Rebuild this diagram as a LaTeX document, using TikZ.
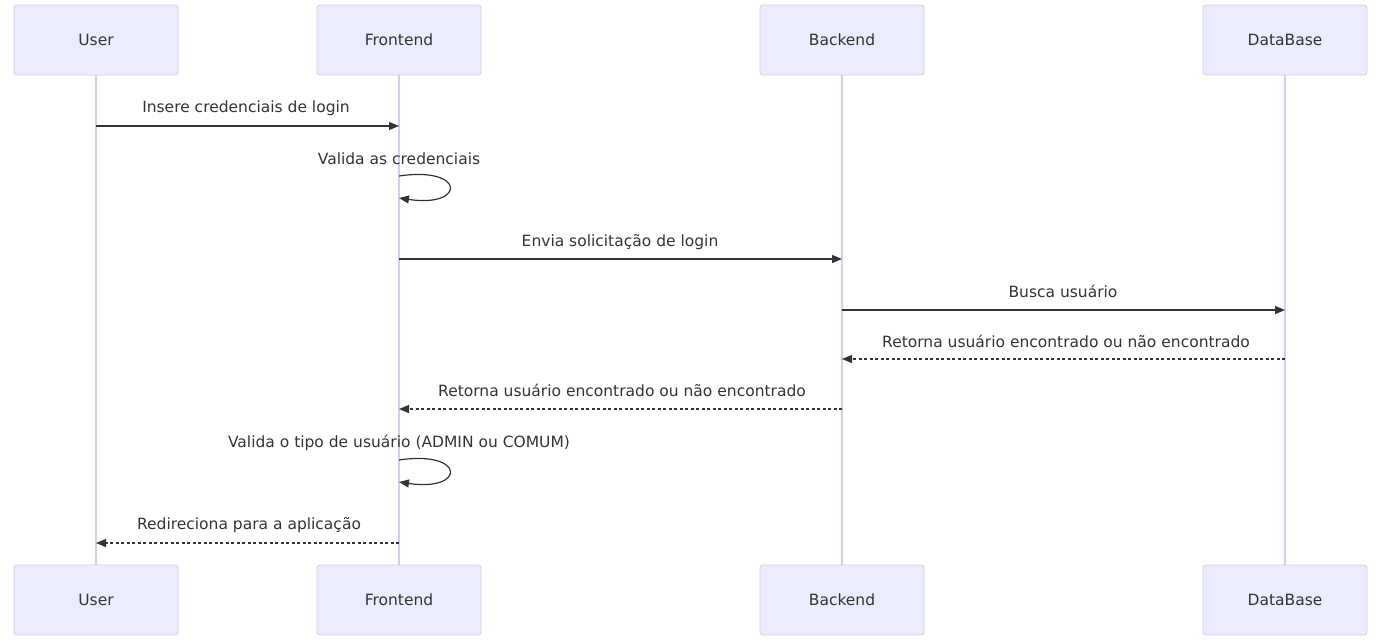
\documentclass[tikz,border=0pt]{standalone}
\usepackage{fontspec}
\setmainfont{DejaVu Sans}
\usetikzlibrary{arrows.meta}
\definecolor{actfill}{HTML}{ECECFF}
\definecolor{actline}{HTML}{D6CCF3}
\definecolor{txt}{HTML}{333333}
\tikzset{
  actor/.style={draw=actline, fill=actfill, rounded corners=3pt, minimum width=164pt, minimum height=70pt, inner sep=0pt, font=\fontsize{15.5}{18}\selectfont, text=txt, line width=0.8pt},
  lifeline/.style={draw=actline, line width=1.2pt},
  msg/.style={draw=txt, line width=1.2pt, -{Triangle[length=10pt,width=8pt]}},
  reply/.style={msg, dash pattern=on 3pt off 2.5pt},
  lbl/.style={font=\fontsize{15.5}{18}\selectfont, text=txt, inner sep=0pt, anchor=base}
}
\begin{document}
\begin{tikzpicture}[x=1pt,y=-1pt]
\useasboundingbox (0,0) rectangle (1379,643);
% actors
\node[actor] (u1) at (96,40) {User};
\node[actor] (f1) at (399,40) {Frontend};
\node[actor] (b1) at (842,40) {Backend};
\node[actor] (d1) at (1285,40) {DataBase};
\node[actor] (u2) at (96,600) {User};
\node[actor] (f2) at (399,600) {Frontend};
\node[actor] (b2) at (842,600) {Backend};
\node[actor] (d2) at (1285,600) {DataBase};
% lifelines
\draw[lifeline] (u1.south) -- (u2.north);
\draw[lifeline] (f1.south) -- (f2.north);
\draw[lifeline] (b1.south) -- (b2.north);
\draw[lifeline] (d1.south) -- (d2.north);
% message coordinates
\coordinate (m1a) at (96,126); \coordinate (m1b) at (399,126);
\coordinate (s1a) at (399,176); \coordinate (s1b) at (399,198);
\coordinate (m3a) at (399,259); \coordinate (m3b) at (842,259);
\coordinate (m4a) at (842,310); \coordinate (m4b) at (1285,310);
\coordinate (m5a) at (1285,359); \coordinate (m5b) at (842,359);
\coordinate (m6a) at (842,409); \coordinate (m6b) at (399,409);
\coordinate (s2a) at (399,460); \coordinate (s2b) at (399,482);
\coordinate (m8a) at (399,543); \coordinate (m8b) at (96,543);
% messages
\draw[msg] (m1a) -- (m1b);
\node[lbl] (l1) at (246,112) {Insere credenciais de login};
\draw[msg] (s1a) .. controls +(67,-10) and +(67,10) .. (s1b);
\node[lbl] (l2) at (399,164) {Valida as credenciais};
\draw[msg] (m3a) -- (m3b);
\node[lbl] (l3) at (620,246) {Envia solicitação de login};
\draw[msg] (m4a) -- (m4b);
\node[lbl] (l4) at (1063,297) {Busca usuário};
\draw[reply] (m5a) -- (m5b);
\node[lbl] (l5) at (1066,347) {Retorna usuário encontrado ou não encontrado};
\draw[reply] (m6a) -- (m6b);
\node[lbl] (l6) at (622,396) {Retorna usuário encontrado ou não encontrado};
\draw[msg] (s2a) .. controls +(67,-10) and +(67,10) .. (s2b);
\node[lbl] (l7) at (399,447) {Valida o tipo de usuário (ADMIN ou COMUM)};
\draw[reply] (m8a) -- (m8b);
\node[lbl] (l8) at (249,529) {Redireciona para a aplicação};
\end{tikzpicture}
\end{document}
